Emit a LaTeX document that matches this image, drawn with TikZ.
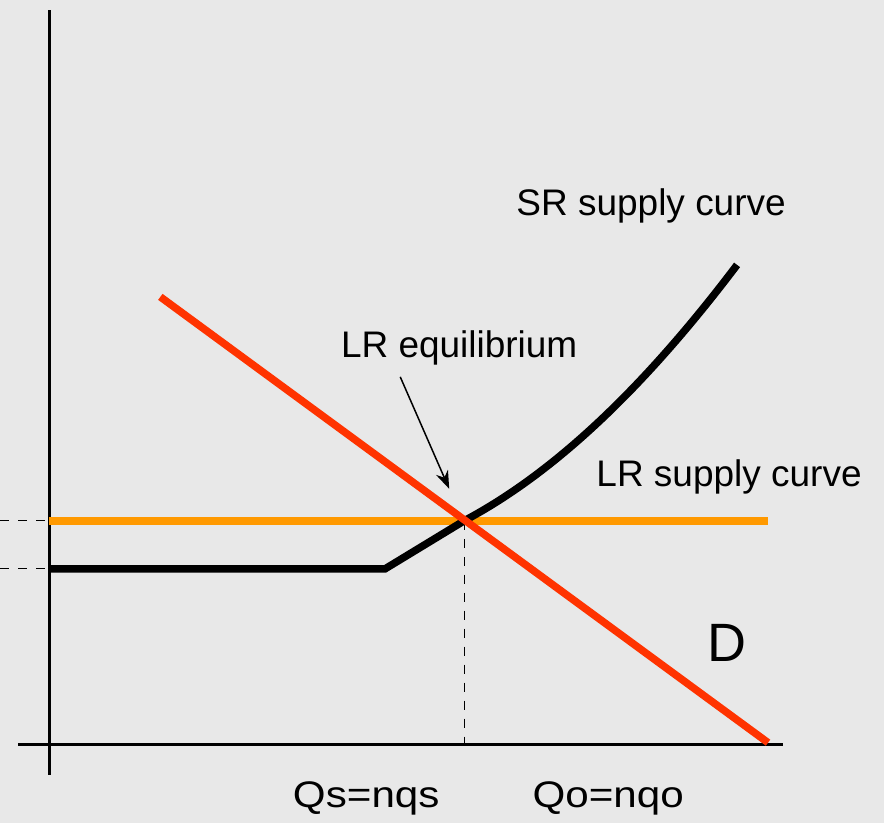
\documentclass[tikz,border=0pt]{standalone}
\usepackage{fontspec}
\setmainfont{Liberation Sans}
\usepackage{tikz}
\usetikzlibrary{arrows.meta}
\definecolor{bgpaper}{RGB}{232,232,232}
\definecolor{dred}{RGB}{255,51,0}
\definecolor{lrorange}{RGB}{255,153,0}
\tikzset{
  lbl/.style={font=\fontsize{37}{42}\selectfont,inner sep=0pt,anchor=base},
  qlbl/.style={lbl,xscale=1.14},
  guide/.style={thick,dash pattern=on 9pt off 9pt}
}

\begin{document}
\begin{tikzpicture}[x=1pt,y=-1pt]
\fill[bgpaper](0,0)rectangle(884,823);
% axes
\draw[line width=2.5pt](49,10)--(49,775);
\draw[line width=2.5pt](18,745)--(783,745);
% named points
\coordinate(E)at(464,521);
\coordinate(K)at(385,569);
\coordinate(Ptop)at(0,521);
\coordinate(Plow)at(0,569);
\coordinate(Qaxis)at(464,745);
\coordinate(tail)at(400,377);
% guides
\draw[guide](Ptop)--(45,521);
\draw[guide](Plow)--(45,569);
\draw[guide](E)--(Qaxis);
% LR supply
\draw[lrorange,line width=8.5pt](49,521)--(768,521);
% SR supply
\draw[line width=7.5pt](49,569)--(K)--(E)..controls(560,470)and(650,380)..(737,265);
% demand
\draw[dred,line width=7.5pt](160,297)--(768,743);
% labels
\node[lbl](sr)at(651,216){SR supply curve};
\node[lbl](lre)at(459,358){LR equilibrium};
\node[lbl](lrs)at(729,487){LR supply curve};
\node[lbl,font=\fontsize{54}{60}\selectfont](dd)at(727,662){D};
\node[qlbl](qs)at(366,808){Qs=nqs};
\node[qlbl](qo)at(608,808){Qo=nqo};
\draw[-{Stealth[length=18pt,width=13pt]},line width=1.5pt](tail)--(449,489);
\end{tikzpicture}
\end{document}
